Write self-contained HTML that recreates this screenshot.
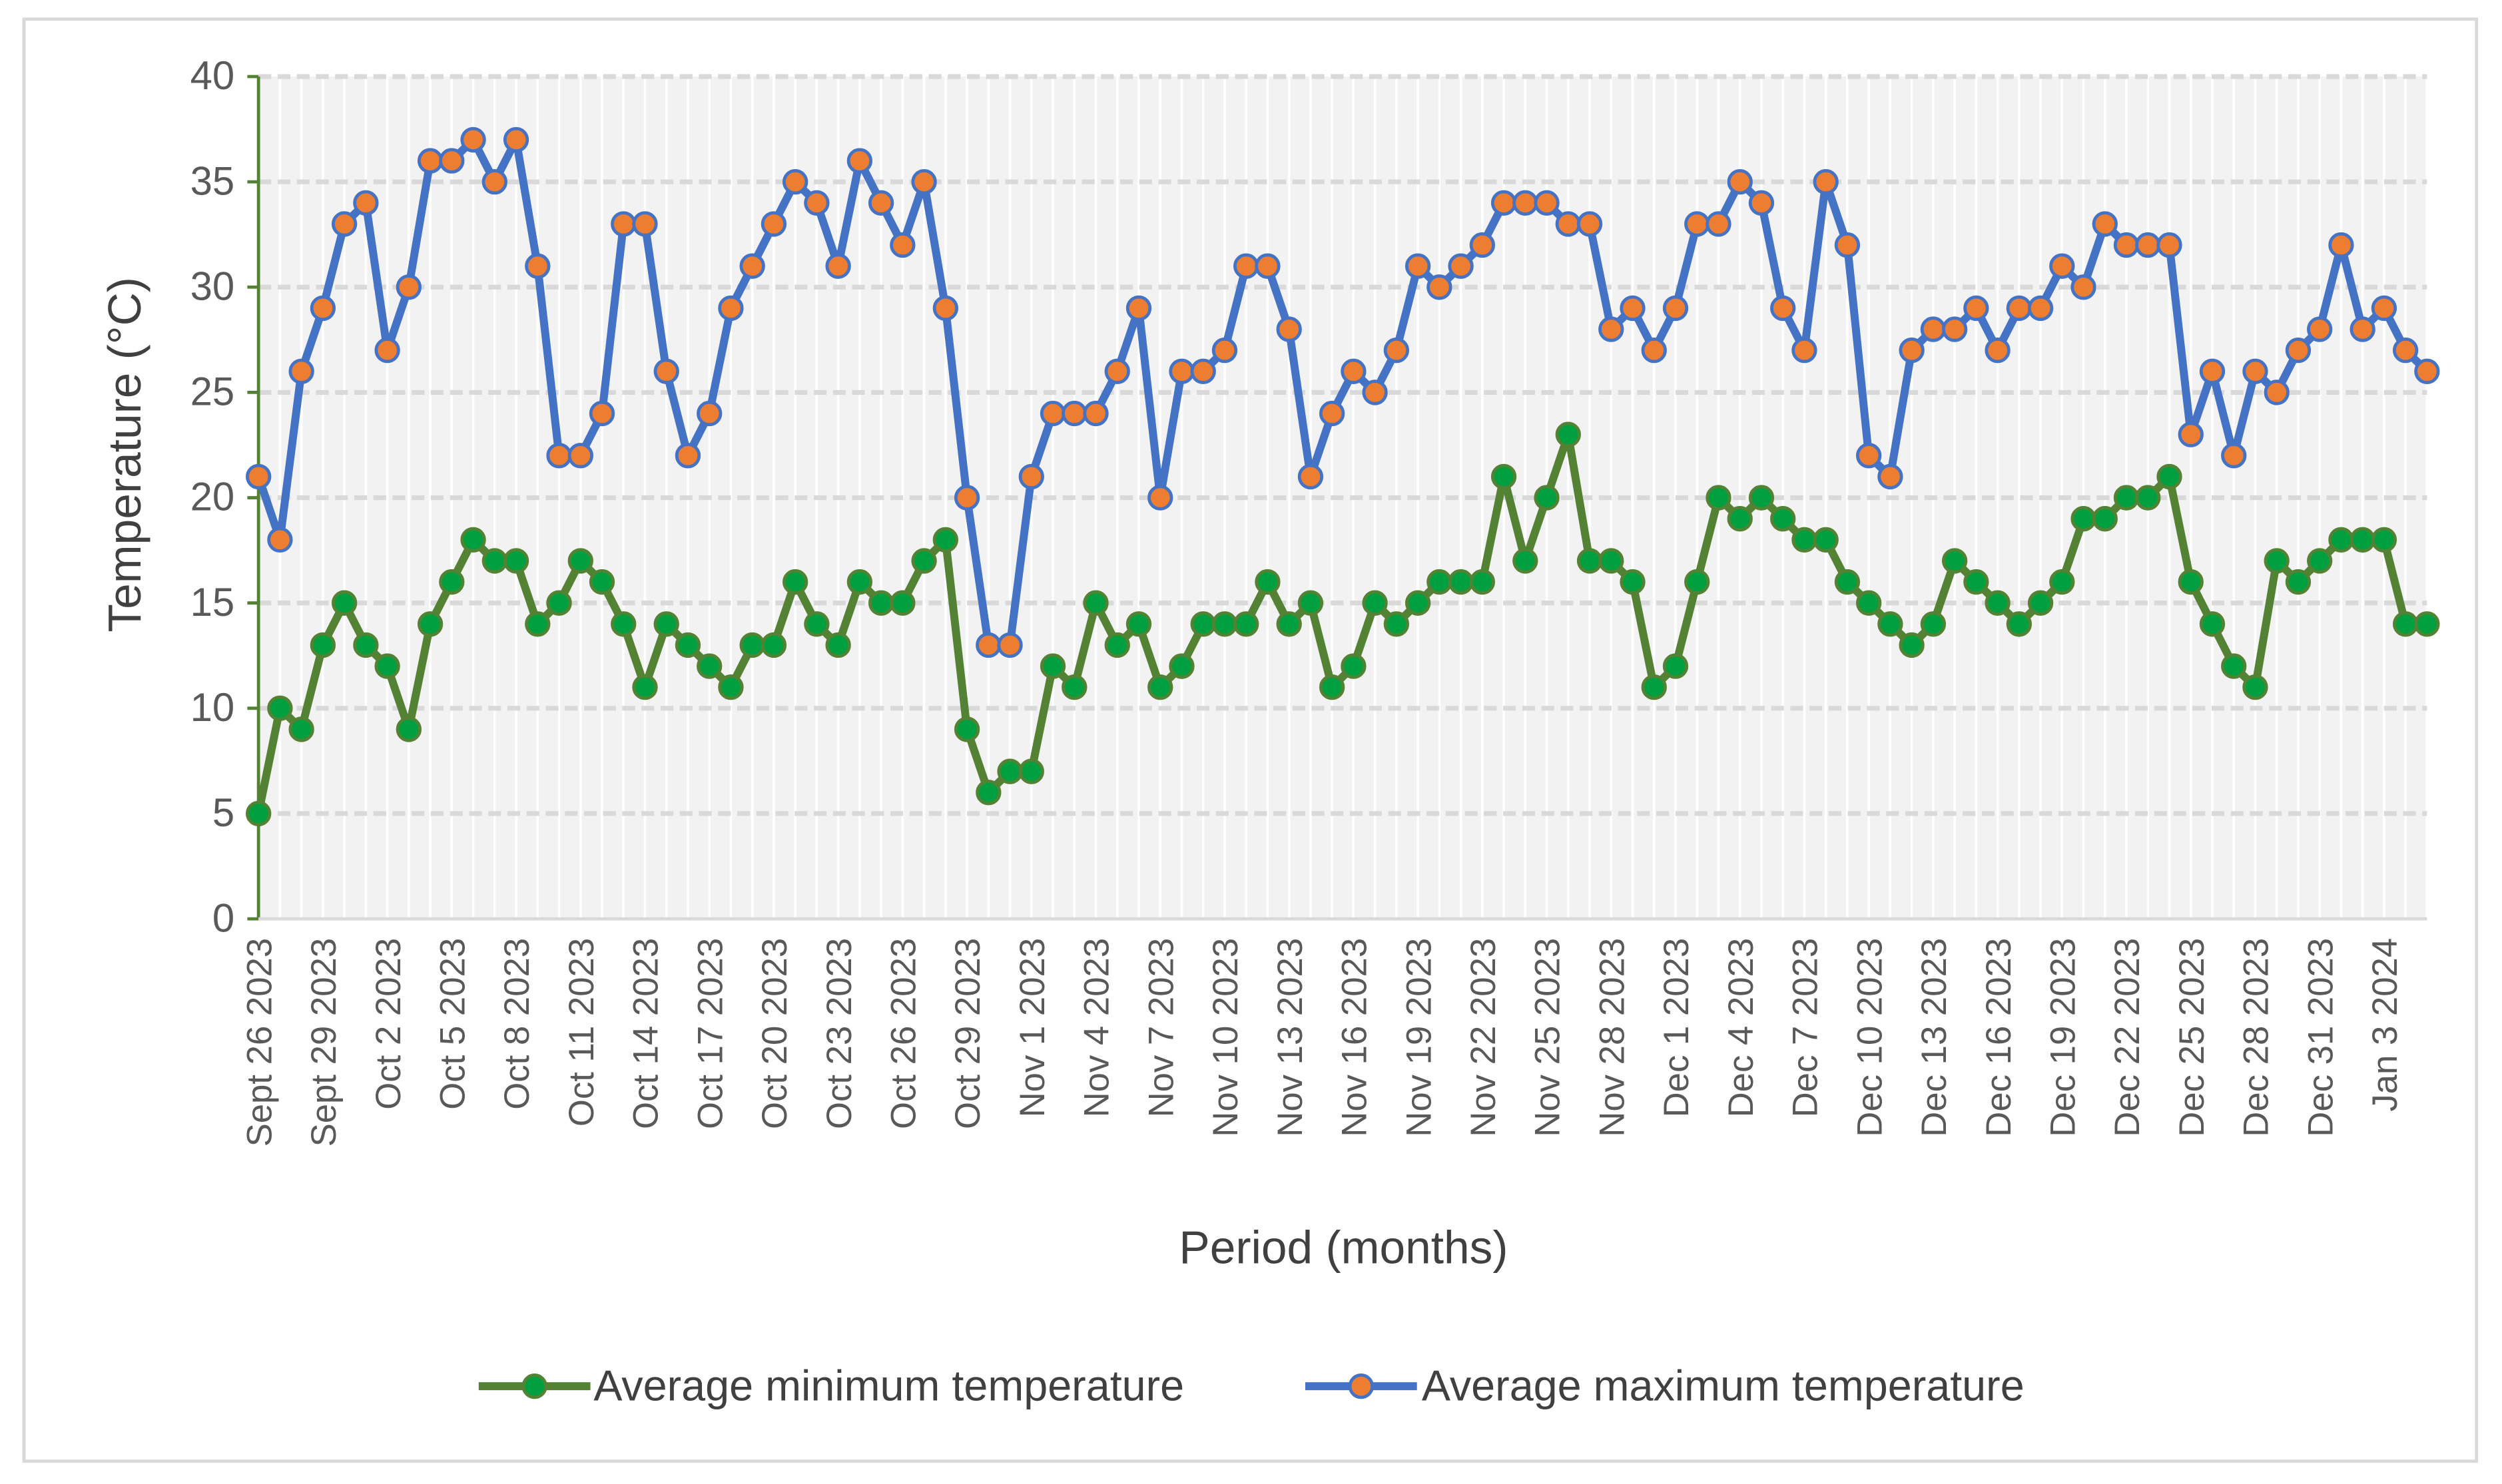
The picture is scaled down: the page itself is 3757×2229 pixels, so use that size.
<!DOCTYPE html>
<html><head><meta charset="utf-8"><style>
html,body{margin:0;padding:0;background:#fff;}
svg{display:block;font-family:"Liberation Sans",sans-serif;}
</style></head><body>
<svg id="chart" width="3757" height="2229" viewBox="0 0 1568 930.3" preserveAspectRatio="none" xmlns="http://www.w3.org/2000/svg">
<rect x="15" y="12" width="1537" height="904" fill="#fff" stroke="#d9d9d9" stroke-width="2"/>
<rect x="162" y="48" width="1359" height="528" fill="#f2f2f2"/>
<g id="grid"></g>
<g id="axes"></g>
<g id="series"></g>
<text transform="translate(88,285) rotate(-90)" text-anchor="middle" font-size="29" fill="#404040">Temperature (°C)</text>
<text x="842" y="792" text-anchor="middle" font-size="29" fill="#404040">Period (months)</text>
<g>
  <g>
    <line x1="300" y1="869" x2="370" y2="869" stroke="#548235" stroke-width="5"/>
    <circle cx="335" cy="869" r="7" fill="#00a040" stroke="#548235" stroke-width="2"/>
    <text x="372" y="878" font-size="27" fill="#404040">Average minimum temperature</text>
  </g>
  <g>
    <line x1="818" y1="869" x2="888" y2="869" stroke="#4472c4" stroke-width="5"/>
    <circle cx="853" cy="869" r="7" fill="#ed7d31" stroke="#4472c4" stroke-width="2"/>
    <text x="891" y="878" font-size="27" fill="#404040">Average maximum temperature</text>
  </g>
</g>
</svg>
<script>
const maxTemps=[21,18,26,29,33,34,27,30,36,36,37,35,37,31,22,22,24,33,33,26,22,24,29,31,33,35,34,31,36,34,32,35,29,20,13,13,21,24,24,24,26,29,20,26,26,27,31,31,28,21,24,26,25,27,31,30,31,32,34,34,34,33,33,28,29,27,29,33,33,35,34,29,27,35,32,22,21,27,28,28,29,27,29,29,31,30,33,32,32,32,23,26,22,26,25,27,28,32,28,29,27,26];
const minTemps=[5,10,9,13,15,13,12,9,14,16,18,17,17,14,15,17,16,14,11,14,13,12,11,13,13,16,14,13,16,15,15,17,18,9,6,7,7,12,11,15,13,14,11,12,14,14,14,16,14,15,11,12,15,14,15,16,16,16,21,17,20,23,17,17,16,11,12,16,20,19,20,19,18,18,16,15,14,13,14,17,16,15,14,15,16,19,19,20,20,21,16,14,12,11,17,16,17,18,18,18,14,14];
const yTicks=[0,5,10,15,20,25,30,35,40];
const startDate=[2023,8,26];
const labelEvery=3;
const NS="http://www.w3.org/2000/svg";
const X0=162,X1=1521,Y0=576,Y1=48;
const n=maxTemps.length;
function xs(i){return X0+(X1-X0)*i/(n-1);}
function ys(v){return Y0-(Y0-Y1)*v/40;}
function mk(tag,attrs,parent){const e=document.createElementNS(NS,tag);for(const k in attrs)e.setAttribute(k,attrs[k]);parent.appendChild(e);return e;}
const grid=document.getElementById('grid'),axes=document.getElementById('axes'),series=document.getElementById('series');
for(let i=0;i<n;i++){const l=mk('line',{x1:xs(i),x2:xs(i),y1:Y1,y2:Y0,stroke:'#ffffff','stroke-width':1.5},grid);

}
yTicks.forEach(t=>{
 if(t>0){const g=mk('line',{x1:X0,x2:X1,y1:ys(t),y2:ys(t),stroke:'#d9d9d9','stroke-width':3,'stroke-dasharray':'8,4'},grid);
 
 }
 const tk=mk('line',{x1:X0-7,x2:X0,y1:ys(t),y2:ys(t),stroke:'#548235','stroke-width':2},axes);
 
 
 const tx=mk('text',{x:X0-15,y:ys(t)+8,'text-anchor':'end','font-size':25,fill:'#595959'},axes);
 tx.textContent=t;
 
 
});
const ya=mk('line',{x1:X0,x2:X0,y1:Y1,y2:Y0,stroke:'#548235','stroke-width':2},axes);


const xa=mk('line',{x1:X0,x2:X1,y1:Y0,y2:Y0,stroke:'#d9d9d9','stroke-width':2},axes);


const mon=['Jan','Feb','Mar','Apr','May','Jun','Jul','Aug','Sept','Oct','Nov','Dec'];
for(let i=0;i<n;i+=labelEvery){
 const d=new Date(startDate[0],startDate[1],startDate[2]+i);
 const s=mon[d.getMonth()]+' '+d.getDate()+' '+d.getFullYear();
 const tx=mk('text',{transform:`translate(${xs(i)+8},${Y0+12}) rotate(-90)`,'text-anchor':'end','font-size':22,fill:'#595959'},axes);
 tx.textContent=s;
 
 
}
function drawSeries(vals,lineColor,fill,stroke,name){
 const p=mk('polyline',{points:vals.map((v,i)=>xs(i)+','+ys(v)).join(' '),fill:'none',stroke:lineColor,'stroke-width':5,'stroke-linejoin':'round'},series);
 
 
 vals.forEach((v,i)=>{const c=mk('circle',{cx:xs(i),cy:ys(v),r:7,fill:fill,stroke:stroke,'stroke-width':2},series);
 
 });
}
drawSeries(minTemps,'#548235','#00a040','#548235','min-temp');
drawSeries(maxTemps,'#4472c4','#ed7d31','#4472c4','max-temp');
</script>
</body></html>
